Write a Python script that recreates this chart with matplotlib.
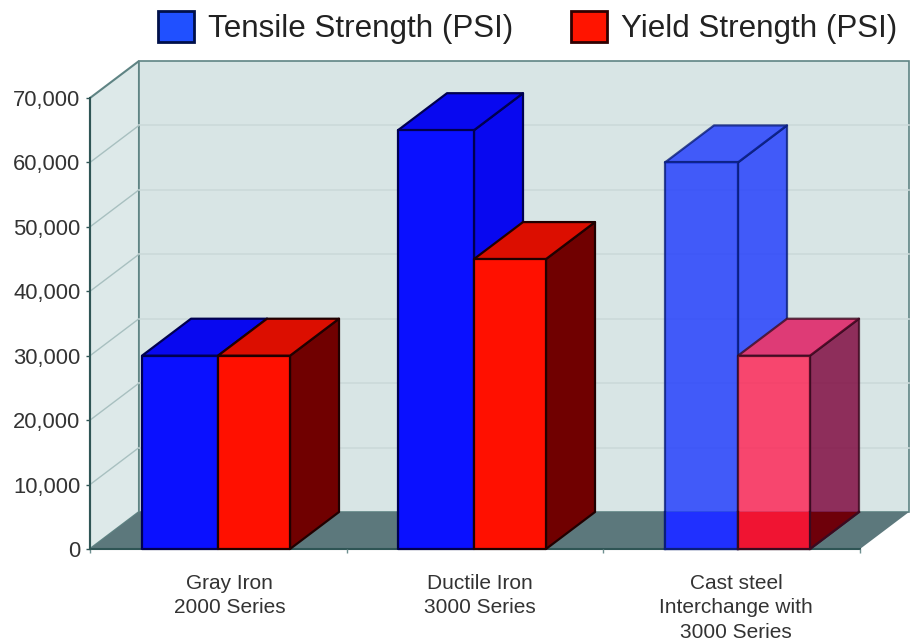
import matplotlib
matplotlib.use("Agg")
import numpy as np
import matplotlib.pyplot as plt
from matplotlib.patches import Polygon, Patch

categories = ["Gray Iron\n2000 Series", "Ductile Iron\n3000 Series", "Cast steel\nInterchange with\n3000 Series"]
tensile = [30000, 65000, 60000]
yield_strength = [30000, 45000, 30000]
y_ticks = [0, 10000, 20000, 30000, 40000, 50000, 60000, 70000]
series_names = ["Tensile Strength (PSI)", "Yield Strength (PSI)"]

plt.rcParams["font.family"] = ["Liberation Sans", "DejaVu Sans"]
W, H = 915, 640
fig = plt.figure(figsize=(W / 100, H / 100), dpi=100, facecolor="white")
ax = fig.add_axes([90 / W, (H - 549) / H, (W - 90) / W, 451 / H])
ax.patch.set_visible(False)
px = 3 / 770
ax.set_xlim(-0.5, -0.5 + (W - 90) * px)
ax.set_ylim(0, 70000)
DX, DY = 49 * px, 37 * 70000 / 451
BAR_W_BLUE = [76 * px, 76 * px, 73 * px]
BAR_W_RED = 72 * px
GROUP_X = [-0.5 + (218 - 90) * px, -0.5 + (474 - 90) * px, -0.5 + (738 - 90) * px]
LABEL_X = [-0.5 + (229.5 - 90) * px, -0.5 + (480 - 90) * px, -0.5 + (736 - 90) * px]
X0, X1 = -0.5, 2.5
WALL, SIDE, FLOOR = "#D8E5E5", "#DDE9E9", "#5C787C"
GRID, EDGE = "#CBDADA", "#5F8484"


def background():
    arts = [
        ax.add_patch(Polygon([(X0, 0), (X0 + DX, DY), (X0 + DX, 70000 + DY), (X0, 70000)],
                             fc=SIDE, ec=EDGE, lw=1.5, clip_on=False, zorder=1)),
        ax.add_patch(Polygon([(X0 + DX, DY), (X1 + DX, DY), (X1 + DX, 70000 + DY), (X0 + DX, 70000 + DY)],
                             fc=WALL, ec=EDGE, lw=1.2, clip_on=False, zorder=1)),
    ]
    for v in y_ticks[1:-1]:
        arts += ax.plot([X0 + DX, X1 + DX], [v + DY] * 2, color=GRID, lw=1.2, zorder=1.1, clip_on=False)
        arts += ax.plot([X0, X0 + DX], [v, v + DY], color="#A8C0C0", lw=1, zorder=1.1, clip_on=False)
    arts.append(ax.add_patch(Polygon([(X0, 0), (X1, 0), (X1 + DX, DY), (X0 + DX, DY)],
                                     fc=FLOOR, ec="none", clip_on=False, zorder=1.2)))
    return arts


def bar3d(x, w, v, front, top, side, edge, alpha, z, mask=False, floor_cols=None):
    if mask:
        outline = Polygon([(x, 0), (x + w, 0), (x + w + DX, DY), (x + w + DX, v + DY), (x + DX, v + DY), (x, v)],
                          transform=ax.transData)
        for art in background():
            art.set_zorder(z - 0.05)
            art.set_clip_on(True)
            art.set_clip_path(outline)
    kw = dict(ec=edge, lw=1.6, joinstyle="round", alpha=alpha, clip_on=False, zorder=z)
    ax.add_patch(Polygon([(x + w, 0), (x + w + DX, DY), (x + w + DX, v + DY), (x + w, v)], fc=side, **kw))
    ax.add_patch(Polygon([(x, v), (x + w, v), (x + w + DX, v + DY), (x + DX, v + DY)], fc=top, **kw))
    ax.add_patch(Polygon([(x, 0), (x + w, 0), (x + w, v), (x, v)], fc=front, **kw))
    if floor_cols:
        ax.add_patch(Polygon([(x, 0), (x + w, 0), (x + w, DY), (x, DY)], fc=floor_cols[0], ec="none",
                             clip_on=False, zorder=z + 0.01))
        ax.add_patch(Polygon([(x + w, 0), (x + w + DX, DY), (x + w, DY)], fc=floor_cols[1], ec="none",
                             clip_on=False, zorder=z + 0.01))
        ax.plot([x, x + w, x + w + DX], [0, 0, DY], color=edge, lw=1.6, clip_on=False, zorder=z + 0.02)
        ax.plot([x + w, x + w], [0, DY], color=edge, lw=1.6, clip_on=False, zorder=z + 0.02)
        ax.plot([x, x], [0, DY], color=edge, lw=1.6, clip_on=False, zorder=z + 0.02)


background()
for i in range(3):
    translucent = i == 2
    a = 0.8 if translucent else 1
    z = 2 + i
    if translucent:
        blue = ("#1B37FF", "#1B37FF", "#1B37FF", "#0A1E7A")
        red = ("#FF1E50", "#E0105A", "#7C0038", "#3A0A20")
    else:
        blue = ("#0A10FF", "#0808F0", "#0808F0", "#000050")
        red = ("#FF1000", "#DC0E00", "#700000", "#200000")
    bar3d(GROUP_X[i] - BAR_W_BLUE[i], BAR_W_BLUE[i], tensile[i], *blue, a, z,
          floor_cols=("#2030FF", "#2030FF") if translucent else None)
    bar3d(GROUP_X[i], BAR_W_RED, yield_strength[i], *red, a, z + 0.5, mask=translucent,
          floor_cols=("#F01432", "#6E000A") if translucent else None)

for s in ("top", "right"):
    ax.spines[s].set_visible(False)
ax.spines["left"].set_color("#2F5555")
ax.spines["bottom"].set_color("#2F5555")
ax.spines["left"].set_linewidth(1.5)
ax.spines["bottom"].set_linewidth(1.5)
ax.spines["bottom"].set_bounds(X0, X1)
ax.spines["left"].set_zorder(6)
ax.spines["bottom"].set_zorder(1.5)

ax.set_yticks(y_ticks)
ax.set_yticklabels([f"{v:,}" for v in y_ticks], fontsize=15.8, color="#333333")
ax.tick_params(axis="y", length=3, width=1, color="#2F5555", pad=4)
ax.set_xticks(LABEL_X)
ax.set_xticklabels(categories, fontsize=15, color="#333333", linespacing=1.36)
ax.tick_params(axis="x", which="major", length=0, pad=18)
ax.set_xticks([X0, X0 + 1, X0 + 2, X1], minor=True)
ax.tick_params(axis="x", which="minor", length=3, width=1, color="#6F9090")

handles = [Patch(fc="#2050FF", ec="#00104A", lw=2), Patch(fc="#FF1400", ec="#300000", lw=2)]
fig.legend(handles, series_names, loc="upper left", bbox_to_anchor=(158 / W, 1 - 11 / H),
           ncols=2, frameon=False, fontsize=22.6, labelcolor="#222222", borderpad=0, borderaxespad=0,
           handlelength=1.145, handleheight=1.12, handletextpad=0.44, columnspacing=1.85)

fig.savefig("out.png", dpi=100)
